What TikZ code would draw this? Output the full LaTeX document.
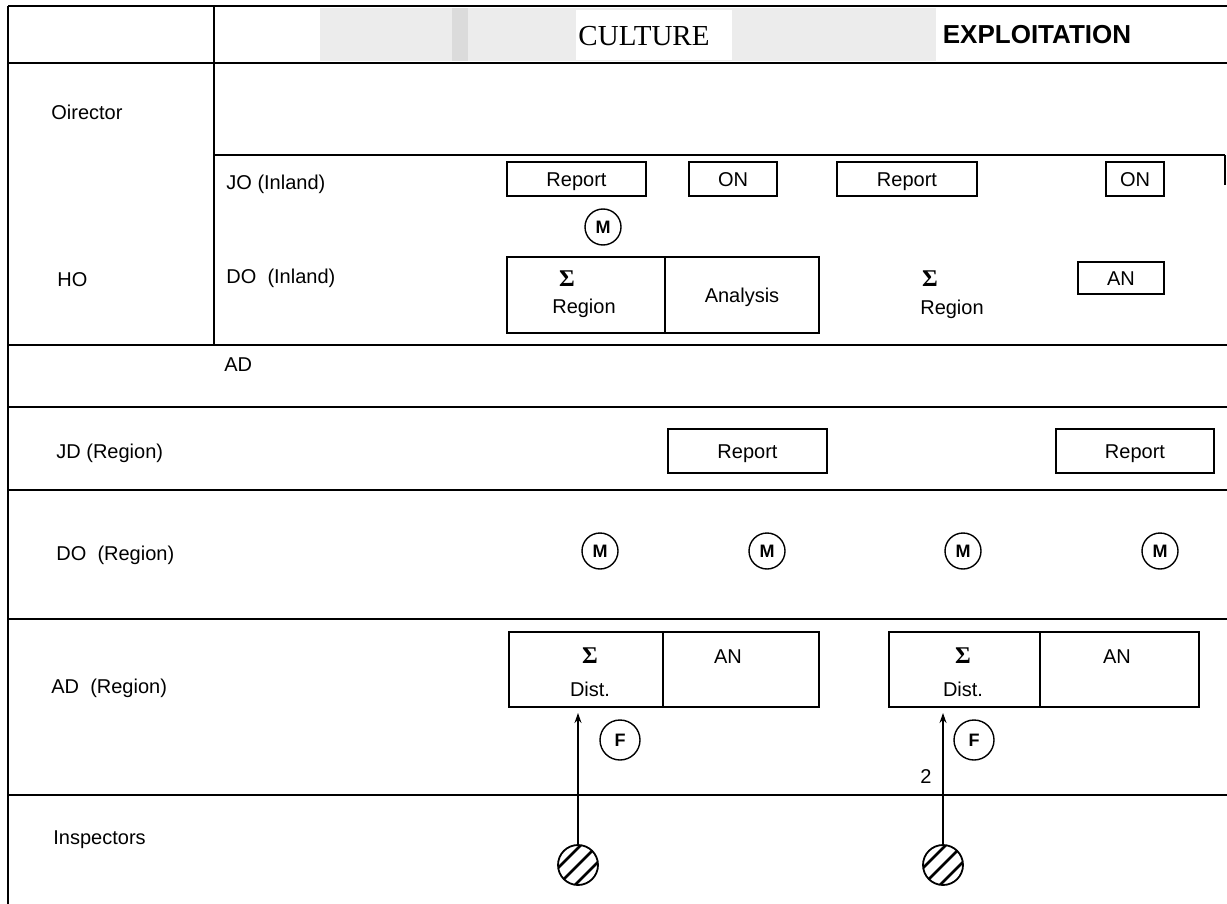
\documentclass[tikz,border=0pt]{standalone}
\usepackage{fontspec}
\setmainfont{Liberation Sans}
\newfontfamily\titreserif{Liberation Serif}
\usetikzlibrary{arrows.meta}

\tikzset{
  trait/.style={line width=0.9pt},
  boite/.style={draw, line width=0.9pt, inner sep=0pt, minimum height=17pt, text height=7.2pt, text depth=0pt},
  rond/.style={draw, circle, line width=0.7pt, minimum size=18pt, inner sep=0pt, font=\bfseries\fontsize{9}{10}\selectfont},
  hachure/.style={draw, circle, line width=0.9pt, minimum size=20pt, inner sep=0pt,
    path picture={\foreach \d in {-8.5,0,8.5}
      \draw[line width=1.4pt] ([xshift=\d pt-15pt, yshift=-15pt]path picture bounding box.center) -- ++(30pt,30pt);}},
  etiq/.style={anchor=west, inner sep=0pt},
  somme/.style={inner sep=0pt, font=\titreserif\bfseries\fontsize{12}{13}\selectfont},
}

\begin{document}
\begin{tikzpicture}[x=0.5pt, y=-0.5pt, font=\fontsize{10}{12}\selectfont]
    \useasboundingbox (0,0) rectangle (1227,904);

    % Fond grisé de l'en-tête
    \fill[gray!15] (320,8) rectangle (936,61);
    \fill[gray!28] (452,8) rectangle (468,61);
    \fill[white] (576,10) rectangle (732,60);

    % Dessiner le tableau
    \draw[trait] (8,6) -- (1227,6);
    \draw[trait] (8,6) -- (8,904);
    \draw[trait] (214,6) -- (214,345);
    \draw[trait] (8,63) -- (1227,63);
    \draw[trait] (214,155) -- (1225,155);
    \draw[trait] (1225,155) -- (1225,185);
    \draw[trait] (8,345) -- (1227,345);
    \draw[trait] (8,407) -- (1227,407);
    \draw[trait] (8,490) -- (1227,490);
    \draw[trait] (8,619) -- (1227,619);
    \draw[trait] (8,795) -- (1227,795);

    % En-têtes des colonnes
    \node[font=\titreserif\fontsize{14.5}{16}\selectfont] (culture) at (644,36) {CULTURE};
    \node[font=\bfseries\fontsize{13}{15}\selectfont] (exploitation) at (1037,35) {EXPLOITATION};

    % Etiquettes des lignes
    \node[etiq] (directeur) at (51,112) {Oirector};
    \node[etiq] (ho) at (57,280) {HO};
    \node[etiq] (joinland) at (226,184) {JO (Inland)};
    \node[etiq] (doinland) at (226,278) {DO~~(Inland)};
    \node[etiq] (ad) at (224,365) {AD};
    \node[etiq] (jdregion) at (56,453) {JD (Region)};
    \node[etiq] (doregion) at (56,555) {DO~~(Region)};
    \node[etiq] (adregion) at (51,688) {AD~~(Region)};
    \node[etiq] (inspecteurs) at (53,840) {Inspectors};

    % JO (Inland)
    \node[boite, minimum width=69.5pt] (rapportA) at (576.5,179) {Report};
    \node[boite, minimum width=44pt] (onA) at (733,179) {ON};
    \node[boite, minimum width=70pt] (rapportB) at (907,179) {Report};
    \node[boite, minimum width=29pt] (onB) at (1135,179) {ON};
    \node[rond] (mA) at (603,227) {M};

    % DO (Inland)
    \node[boite, minimum width=79pt, minimum height=38pt] (regionA) at (586,295) {};
    \node[boite, minimum width=77pt, minimum height=38pt] (analyse) at (742,295) {Analysis};
    \node[somme] (sommeA) at (567,279) {Σ};
    \node (regtxtA) at (584,308) {Region};
    \node[somme] (sommeB) at (930,279) {Σ};
    \node (regtxtB) at (952,309) {Region};
    \node[boite, minimum width=43pt, minimum height=16pt] (anA) at (1121,278) {AN};

    % JD (Region)
    \node[boite, minimum width=79.5pt, minimum height=22pt] (rapportC) at (747.5,451) {Report};
    \node[boite, minimum width=79pt, minimum height=22pt] (rapportD) at (1135,451) {Report};

    % DO (Region)
    \node[rond] (mB) at (600,551) {M};
    \node[rond] (mC) at (767,551) {M};
    \node[rond] (mD) at (963,551) {M};
    \node[rond] (mE) at (1160,551) {M};

    % AD (Region)
    \node[boite, minimum width=77pt, minimum height=37.5pt] (distA) at (586,669.5) {};
    \node[boite, minimum width=78pt, minimum height=37.5pt] (anB) at (741,669.5) {};
    \node[somme] (sommeC) at (590,656) {Σ};
    \node (disttxtA) at (590,689) {Dist.};
    \node (antxtB) at (728,657) {AN};
    \node[boite, minimum width=75.5pt, minimum height=37.5pt] (distB) at (964.5,669.5) {};
    \node[boite, minimum width=79.5pt, minimum height=37.5pt] (anC) at (1119.5,669.5) {};
    \node[somme] (sommeD) at (963,656) {Σ};
    \node (disttxtB) at (963,689) {Dist.};
    \node (antxtC) at (1117,657) {AN};
    \node[rond, minimum size=20pt] (fA) at (620,740) {F};
    \node[rond, minimum size=20pt] (fB) at (974,740) {F};

    % Inspecteurs et flèches
    \node[hachure] (inspA) at (578,865) {};
    \node[hachure] (inspB) at (943,865) {};
    \coordinate (basA) at (578,713);
    \coordinate (basB) at (943,713);
    \draw[line width=0.6pt, -{Stealth[length=5pt, width=3.5pt]}] (inspA) -- (basA);
    \draw[line width=0.6pt, -{Stealth[length=5pt, width=3.5pt]}] (inspB) -- (basB);
    \node (deux) at (926,777) {2};
\end{tikzpicture}
\end{document}
